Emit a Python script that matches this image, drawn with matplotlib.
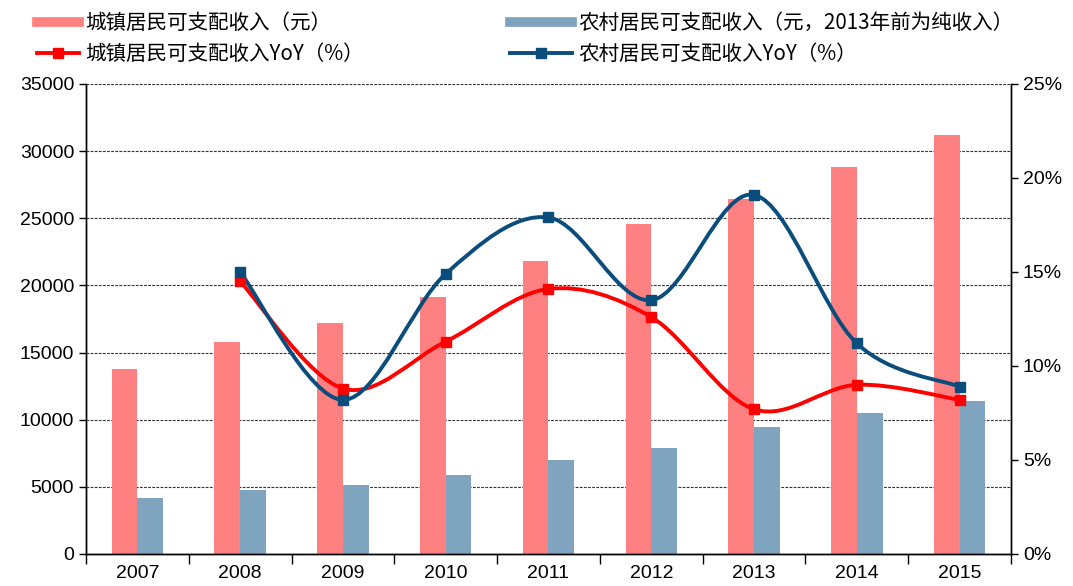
import matplotlib
matplotlib.use("Agg")
import matplotlib.pyplot as plt
import numpy as np
from matplotlib.path import Path
from matplotlib.patches import PathPatch
from matplotlib.lines import Line2D

plt.rcParams['font.family'] = ['Liberation Sans', 'Noto Sans CJK SC', 'DejaVu Sans']

years = ['2007', '2008', '2009', '2010', '2011', '2012', '2013', '2014', '2015']
urban_income = [13786, 15781, 17175, 19109, 21810, 24565, 26467, 28844, 31195]
rural_income = [4140, 4761, 5153, 5919, 6977, 7917, 9430, 10489, 11422]
yoy_years = ['2008', '2009', '2010', '2011', '2012', '2013', '2014', '2015']
urban_yoy = [14.5, 8.8, 11.3, 14.1, 12.6, 7.7, 9.0, 8.2]
rural_yoy = [15.0, 8.2, 14.9, 17.9, 13.5, 19.1, 11.2, 8.9]

labels = ['城镇居民可支配收入（元）', '农村居民可支配收入（元，2013年前为纯收入）',
          '城镇居民可支配收入YoY（%）', '农村居民可支配收入YoY（%）']

c_urban = '#FF8080'
c_rural = '#7FA4BF'
c_uline = '#FF0000'
c_rline = '#0A4D7C'

fig = plt.figure(figsize=(10.73, 5.86), dpi=100)
ax = fig.add_axes([86/1073, 1-554/586, 925/1073, 470/586])
ax2 = ax.twinx()

x = np.arange(len(years))
w = 0.25
ax.bar(x - w/2, urban_income, width=w, color=c_urban, zorder=2)
ax.bar(x + w/2, rural_income, width=w, color=c_rural, zorder=2)

fs = 14
ax.set_xlim(-0.5, len(years) - 0.5)
ax.set_ylim(0, 35000)
ax.set_yticks(np.arange(0, 35001, 5000))
ax.grid(axis='y', linestyle=(0, (2.5, 1.2)), color='#333333', linewidth=0.8, zorder=1)
ax.set_axisbelow(True)
ax.set_xticks(x)
ax.set_xticklabels(years)
ax.set_xticks(np.arange(-0.5, len(years), 1), minor=True)
ax.tick_params(axis='x', which='major', length=0, labelsize=fs, pad=8)
ax.tick_params(axis='x', which='minor', length=7, direction='out', width=1)
ax.tick_params(axis='y', labelsize=fs, length=5, direction='out', width=1)

ax2.set_ylim(0, 25)
ax2.set_yticks(np.arange(0, 26, 5))
ax2.set_yticklabels([f'{v}%' for v in range(0, 26, 5)])
ax2.tick_params(axis='y', labelsize=fs, length=5, direction='out', width=1)

for a in (ax, ax2):
    a.spines['top'].set_visible(False)
    for s in ('left', 'right', 'bottom'):
        a.spines[s].set_linewidth(1.0)
        a.spines[s].set_color('black')


def smooth_path(xs, ys):
    xs = np.asarray(xs, float)
    ys = np.asarray(ys, float)
    n = len(xs)
    verts = [(xs[0], ys[0])]
    codes = [Path.MOVETO]
    for i in range(n - 1):
        p0 = np.array([xs[max(i - 1, 0)], ys[max(i - 1, 0)]])
        p1 = np.array([xs[i], ys[i]])
        p2 = np.array([xs[i + 1], ys[i + 1]])
        p3 = np.array([xs[min(i + 2, n - 1)], ys[min(i + 2, n - 1)]])
        c1 = p1 + (p2 - p0) / 6.0
        c2 = p2 - (p3 - p1) / 6.0
        verts += [tuple(c1), tuple(c2), tuple(p2)]
        codes += [Path.CURVE4] * 3
    return Path(verts, codes)


xi = np.array([years.index(y) for y in yoy_years])
for vals, col in ((urban_yoy, c_uline), (rural_yoy, c_rline)):
    patch = PathPatch(smooth_path(xi, vals), facecolor='none', edgecolor=col,
                      linewidth=2.8, zorder=3, capstyle='round')
    ax2.add_patch(patch)
    ax2.plot(xi, vals, linestyle='none', marker='s', markersize=7, color=col, zorder=4)

cjk = ['Noto Sans CJK SC', 'DejaVu Sans']
h_ub = Line2D([], [], color=c_urban, lw=7)
h_rb = Line2D([], [], color=c_rural, lw=7)
h_ul = Line2D([], [], color=c_uline, lw=2.8, marker='s', markersize=7)
h_rl = Line2D([], [], color=c_rline, lw=2.8, marker='s', markersize=7)

leg_kw = dict(frameon=False, handletextpad=0.3, labelspacing=0.45,
              prop={'family': cjk, 'size': 14.8}, borderaxespad=0, borderpad=0)
leg1 = fig.legend([h_ub, h_ul], [labels[0], labels[2]], loc='upper left',
                  handlelength=2.05, bbox_to_anchor=(37/1073, 1-12/586), **leg_kw)
leg2 = fig.legend([h_rb, h_rl], [labels[1], labels[3]], loc='upper left',
                  handlelength=3.0, bbox_to_anchor=(510/1073, 1-12/586), **leg_kw)

fig.savefig('out.png', dpi=100)
